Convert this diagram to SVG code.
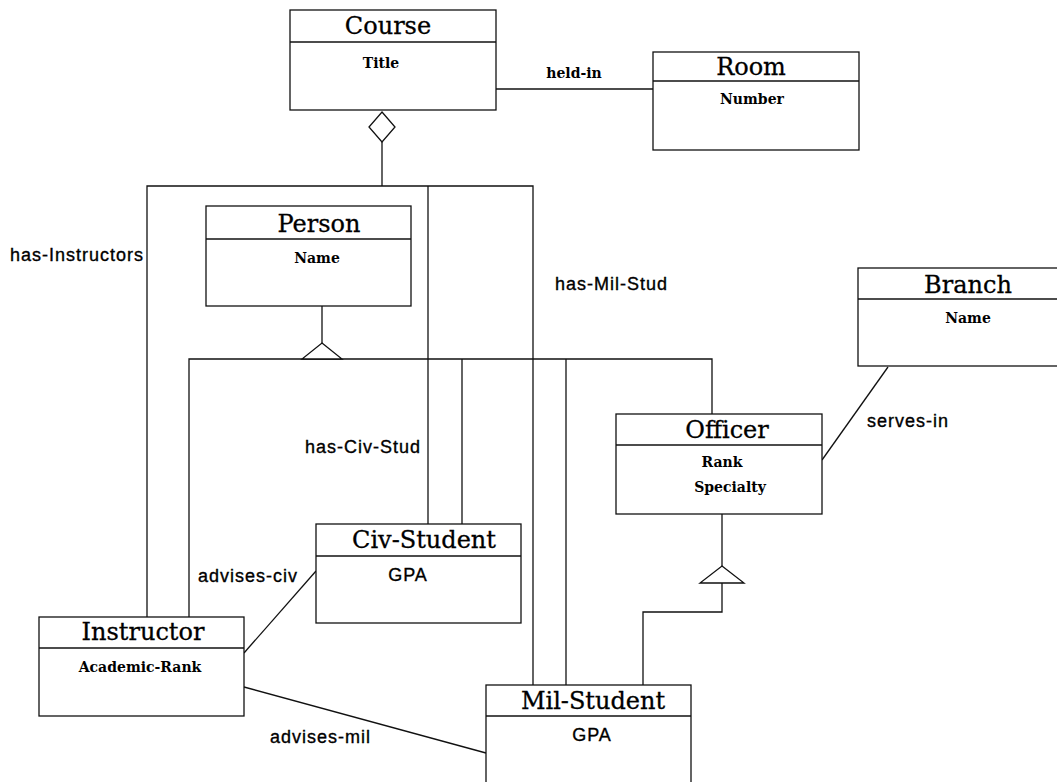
<svg xmlns="http://www.w3.org/2000/svg" width="1057" height="782" viewBox="0 0 1057 782">
  <style>
    .box { fill: #ffffff; stroke: #111111; stroke-width: 1.3; }
    .sep { stroke: #111111; stroke-width: 1.3; }
    .ln { fill: none; stroke: #111111; stroke-width: 1.3; }
    .sym { fill: #ffffff; stroke: #111111; stroke-width: 1.3; }
    .name { font-family: "DejaVu Serif", "Liberation Serif", serif; font-size: 24px; fill: #000000; stroke: #000000; stroke-width: 0.3; text-anchor: middle; }
    .attr { font-family: "DejaVu Serif", "Liberation Serif", serif; font-size: 14px; font-weight: bold; fill: #000000; text-anchor: middle; }
    .attr-sans { font-family: "Liberation Sans", Arial, sans-serif; font-size: 18px; letter-spacing: 1px; fill: #000000; stroke: #000000; stroke-width: 0.35; text-anchor: middle; }
    .role { font-family: "Liberation Sans", Arial, sans-serif; font-size: 18px; letter-spacing: 1px; fill: #000000; stroke: #000000; stroke-width: 0.35; }
    .role-serif { font-family: "DejaVu Serif", "Liberation Serif", serif; font-size: 14px; font-weight: bold; fill: #000000; text-anchor: middle; }
  </style>
  <rect width="1057" height="782" fill="#ffffff"/>

  <!-- connectors -->
  <g id="connectors">
    <!-- held-in -->
    <line class="ln" x1="496" y1="89" x2="653" y2="89"/>
    <text class="role-serif" x="574" y="78">held-in</text>

    <!-- Course aggregation -->
    <line class="ln" x1="382" y1="142" x2="382" y2="186"/>
    <polyline class="ln" points="147,617 147,186 533,186 533,685"/>
    <line class="ln" x1="428" y1="186" x2="428" y2="524"/>
    <polygon class="sym" points="382,112 395,127 382,142 369,127"/>
    <text class="role" x="10" y="261">has-Instructors</text>
    <text class="role" x="555" y="290">has-Mil-Stud</text>
    <text class="role" x="305" y="453">has-Civ-Stud</text>

    <!-- Person generalization -->
    <line class="ln" x1="322" y1="306" x2="322" y2="343"/>
    <polyline class="ln" points="189,617 189,359 712,359 712,414"/>
    <line class="ln" x1="462" y1="359" x2="462" y2="524"/>
    <line class="ln" x1="566" y1="359" x2="566" y2="685"/>
    <polygon class="sym" points="322,343 342,359 302,359"/>

    <!-- Officer generalization -->
    <line class="ln" x1="722" y1="514" x2="722" y2="566"/>
    <polyline class="ln" points="722,583 722,612 643,612 643,685"/>
    <polygon class="sym" points="722,566 744,583 700,583"/>

    <!-- serves-in -->
    <line class="ln" x1="888" y1="367" x2="822" y2="460"/>
    <text class="role" x="867" y="427">serves-in</text>

    <!-- advises-civ -->
    <line class="ln" x1="244" y1="653" x2="316" y2="571"/>
    <text class="role" x="198" y="582">advises-civ</text>

    <!-- advises-mil -->
    <line class="ln" x1="244" y1="687" x2="486" y2="753"/>
    <text class="role" x="270" y="743">advises-mil</text>
  </g>

  <!-- nodes -->
  <g id="course">
    <rect class="box" x="290" y="10" width="206" height="100"/>
    <line class="sep" x1="290" y1="42" x2="496" y2="42"/>
    <text class="name" x="388" y="34">Course</text>
    <text class="attr" x="381" y="68">Title</text>
  </g>

  <g id="room">
    <rect class="box" x="653" y="52" width="206" height="98"/>
    <line class="sep" x1="653" y1="81" x2="859" y2="81"/>
    <text class="name" x="751" y="75">Room</text>
    <text class="attr" x="752" y="104">Number</text>
  </g>

  <g id="person">
    <rect class="box" x="206" y="206" width="205" height="100"/>
    <line class="sep" x1="206" y1="239" x2="411" y2="239"/>
    <text class="name" x="319" y="232">Person</text>
    <text class="attr" x="317" y="263">Name</text>
  </g>

  <g id="branch">
    <rect class="box" x="858" y="268" width="222" height="98"/>
    <line class="sep" x1="858" y1="299" x2="1080" y2="299"/>
    <text class="name" x="968" y="293">Branch</text>
    <text class="attr" x="968" y="323">Name</text>
  </g>

  <g id="officer">
    <rect class="box" x="616" y="414" width="206" height="100"/>
    <line class="sep" x1="616" y1="445" x2="822" y2="445"/>
    <text class="name" x="727" y="438">Officer</text>
    <text class="attr" x="722" y="467">Rank</text>
    <text class="attr" x="730" y="492">Specialty</text>
  </g>

  <g id="civ-student">
    <rect class="box" x="316" y="524" width="205" height="99"/>
    <line class="sep" x1="316" y1="556" x2="521" y2="556"/>
    <text class="name" x="424" y="548">Civ-Student</text>
    <text class="attr-sans" x="408" y="581">GPA</text>
  </g>

  <g id="instructor">
    <rect class="box" x="39" y="617" width="205" height="99"/>
    <line class="sep" x1="39" y1="648" x2="244" y2="648"/>
    <text class="name" x="143" y="640">Instructor</text>
    <text class="attr" x="140" y="672">Academic-Rank</text>
  </g>

  <g id="mil-student">
    <rect class="box" x="486" y="685" width="205" height="110"/>
    <line class="sep" x1="486" y1="716" x2="691" y2="716"/>
    <text class="name" x="593" y="709">Mil-Student</text>
    <text class="attr-sans" x="592" y="741">GPA</text>
  </g>
</svg>
